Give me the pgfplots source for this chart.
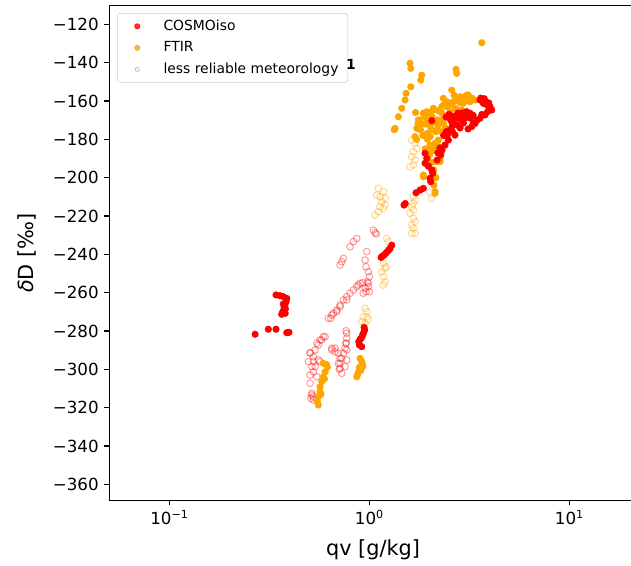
\documentclass[border=0pt]{standalone}
\usepackage{fontspec}
\setmainfont{DejaVu Sans}
\usepackage{pgfplots}
\pgfplotsset{compat=1.18}
\definecolor{mplorange}{HTML}{FFA500}
\definecolor{leggray}{HTML}{BFBFBF}
\newcommand\tickfont{\fontsize{12pt}{14pt}\selectfont}
\newcommand\labfont{\fontsize{15pt}{18pt}\selectfont}
\newcommand\legfont{\fontsize{10pt}{12pt}\selectfont}
\begin{document}
\begin{tikzpicture}
\useasboundingbox (-78.7pt,-46.44pt) rectangle (375.6pt,360.4pt);
\begin{axis}[
  at={(0,0)}, anchor=south west, scale only axis,
  width=379.7pt, height=356.26pt,
  xmode=log, xmin=0.05, xmax=21.7, ymin=-368.5, ymax=-110.3,
  xtick=\empty, ytick=\empty,
  minor xtick={0.05,0.06,0.07,0.08,0.09,0.2,0.3,0.4,0.5,0.6,0.7,0.8,0.9,2,3,4,5,6,7,8,9,20},
  tick align=outside, tick pos=left,
  minor tick length=2pt,
  minor tick style={line width=0.6pt, black},
  separate axis lines, axis line style={line width=0.8pt, black},
  xlabel={qv [g/kg]}, ylabel={{\itshape δ}D [‰]},
  every axis x label/.style={at={(axis description cs:0.5,-0.0999)}, anchor=center, font=\labfont},
  every axis y label/.style={at={(axis description cs:-0.1562,0.5)}, rotate=90, anchor=center, font=\labfont},
  legend style={at={(0.0146,0.9852)}, anchor=north west, draw=black!20, rounded corners=2pt,
    fill=white, fill opacity=0.8, text opacity=1,
    inner xsep=5.7pt, inner ysep=3.5pt, row sep=3.8pt,
    nodes={inner sep=1pt, text height=7.5pt, text depth=2.2pt}},
  legend cell align=left,
]
\addlegendimage{legend image code/.code={\path (0pt,-3pt) (26.2pt,3pt); \fill[red] (8.5pt,0pt) circle[radius=1.9pt];}}
\addlegendentry{\legfont COSMOiso}
\addlegendimage{legend image code/.code={\path (0pt,-3pt) (26.2pt,3pt); \fill[mplorange] (8.5pt,0pt) circle[radius=1.9pt];}}
\addlegendentry{\legfont FTIR}
\addlegendimage{legend image code/.code={\path (0pt,-3pt) (26.2pt,3pt); \draw[leggray, line width=0.6pt] (8.5pt,0pt) circle[radius=1.45pt];}}
\addlegendentry{\legfont less reliable meteorology}

% less reliable, COSMOiso (open, red)
\addplot[forget plot, only marks, mark=o, mark size=2.4pt, draw=red, line width=0.75pt, draw opacity=0.38] table {
x y
1.046 -227.4
1.067 -228.7
1.083 -229.4
0.864 -231.7
0.831 -233.4
0.800 -236.0
0.741 -242.1
0.727 -243.9
0.713 -245.6
0.969 -238.6
0.951 -243.0
0.962 -246.5
0.987 -249.1
0.999 -251.7
0.976 -254.3
0.987 -256.9
0.962 -259.5
0.932 -260.3
0.898 -255.1
0.864 -256.9
0.831 -258.6
0.800 -260.3
0.770 -262.1
0.741 -263.8
0.713 -266.4
0.686 -269.1
0.660 -270.8
0.641 -273.4
0.880 -256.0
0.926 -254.8
0.987 -255.1
0.951 -257.7
0.999 -259.5
0.770 -263.8
0.713 -267.3
0.686 -269.9
0.648 -271.7
0.623 -273.4
0.764 -279.9
0.770 -283.8
0.764 -286.4
0.755 -289.0
0.741 -291.6
0.727 -294.3
0.713 -296.9
0.707 -300.0
0.673 -290.8
0.648 -289.0
0.600 -283.0
0.577 -284.7
0.555 -287.3
0.535 -289.9
0.505 -291.3
0.555 -295.1
0.524 -295.9
0.515 -298.6
0.505 -303.0
0.515 -313.4
0.509 -315.1
0.524 -316.0
0.588 -283.0
0.566 -284.7
0.545 -286.4
0.505 -291.6
0.524 -293.4
0.495 -296.0
0.566 -296.0
0.535 -298.6
0.524 -301.3
0.545 -303.9
0.505 -307.3
0.515 -312.5
0.524 -314.3
0.648 -289.9
0.673 -289.0
0.699 -291.6
0.713 -294.3
0.699 -296.9
0.713 -299.5
0.727 -302.1
0.755 -298.6
0.770 -295.1
0.770 -289.9
0.764 -286.4
0.770 -281.2
};
% less reliable, FTIR (open, orange)
\addplot[forget plot, only marks, mark=o, mark size=2.4pt, draw=mplorange, line width=0.75pt, draw opacity=0.42] table {
x y
1.108 -205.6
1.088 -209.1
1.130 -210.0
1.174 -207.3
1.197 -210.8
1.152 -212.6
1.130 -215.2
1.174 -216.0
1.067 -219.5
1.108 -217.8
1.197 -214.3
1.220 -231.7
1.243 -233.4
1.174 -244.7
1.197 -247.3
1.152 -249.1
1.174 -251.7
1.197 -254.3
1.174 -256.0
1.211 -246.5
0.951 -268.2
0.969 -270.0
0.932 -272.6
0.969 -272.6
0.987 -273.9
0.915 -275.2
0.951 -276.0
1.627 -180.4
1.690 -182.1
1.724 -184.7
1.657 -186.5
1.627 -189.1
1.690 -190.8
1.657 -193.4
1.596 -194.3
1.657 -209.9
1.690 -211.7
1.657 -213.4
1.627 -215.2
1.657 -216.9
1.596 -218.6
1.657 -221.2
1.690 -223.0
1.627 -224.7
1.657 -226.4
1.690 -229.0
1.627 -229.0
2.009 -207.5
2.049 -210.9
};
% FTIR (filled, orange)
\addplot[forget plot, only marks, mark=*, mark size=2.3pt, draw=mplorange, fill=mplorange, line width=0.5pt] table {
x y
0.588 -296.9
0.616 -299.0
0.600 -301.3
0.588 -303.9
0.577 -306.5
0.566 -309.1
0.566 -311.7
0.555 -314.3
0.549 -316.9
0.555 -318.6
0.610 -297.5
0.595 -305.0
0.572 -313.0
0.898 -294.3
0.915 -296.0
0.926 -298.6
0.905 -300.7
0.870 -303.0
0.864 -303.9
0.890 -299.0
0.880 -301.5
0.920 -297.0
1.596 -140.3
1.609 -143.0
1.826 -146.5
1.805 -149.1
1.609 -152.6
1.524 -156.0
1.507 -159.5
1.450 -163.8
1.395 -168.2
1.343 -174.3
1.330 -175.0
2.710 -143.5
2.732 -145.6
3.644 -129.6
2.580 -154.3
2.342 -158.6
2.838 -157.8
3.123 -156.9
3.184 -160.4
2.948 -161.2
2.087 -163.8
1.860 -166.4
1.756 -169.9
1.724 -174.3
2.009 -173.4
2.170 -169.9
2.299 -166.4
2.435 -163.0
2.009 -178.6
2.128 -182.1
2.211 -180.4
2.009 -183.0
2.128 -185.6
2.254 -190.8
2.170 -191.7
1.860 -198.6
2.128 -208.2
1.935 -176.9
1.690 -178.6
1.791 -169.9
1.935 -165.6
2.087 -164.7
2.342 -171.7
2.529 -165.6
2.087 -185.6
2.254 -191.7
1.971 -194.3
1.860 -199.6
2.128 -207.3
3.066 -156.9
2.894 -164.7
2.627 -160.4
3.373 -159.5
2.200 -165.0
2.400 -168.0
2.700 -164.0
1.900 -172.0
2.050 -168.0
1.700 -166.0
1.750 -172.0
1.800 -175.0
1.850 -178.0
1.900 -168.0
1.950 -170.0
2.000 -166.0
2.050 -175.0
2.100 -171.0
2.150 -176.0
2.200 -173.0
2.250 -170.0
2.300 -163.0
2.350 -162.0
2.450 -160.5
2.550 -162.0
2.650 -157.0
2.750 -160.0
2.850 -161.0
2.950 -158.0
3.050 -159.0
3.150 -158.0
3.250 -158.5
2.000 -188.0
2.050 -192.0
2.100 -196.0
2.150 -200.0
2.100 -204.0
1.950 -180.0
1.900 -185.0
1.950 -190.0
2.000 -186.0
1.800 -172.0
1.720 -180.0
2.200 -187.0
2.250 -184.0
2.300 -176.0
2.400 -174.0
};
% COSMOiso (filled, red)
\addplot[forget plot, only marks, mark=*, mark size=2.3pt, draw=red, fill=red, line width=0.5pt] table {
x y
0.268 -281.7
0.312 -279.1
0.341 -279.1
0.386 -280.9
0.396 -280.7
0.341 -261.2
0.357 -261.6
0.371 -262.1
0.386 -263.0
0.383 -264.7
0.378 -266.5
0.371 -265.9
0.374 -267.7
0.380 -268.5
0.368 -270.0
0.364 -271.3
0.379 -270.8
0.940 -278.1
0.947 -279.5
0.932 -281.2
0.925 -282.0
0.918 -283.0
0.905 -284.0
0.898 -284.3
0.884 -285.6
0.890 -287.3
0.915 -288.2
1.293 -235.2
1.268 -236.9
1.250 -237.7
1.229 -238.6
1.205 -239.5
1.183 -240.4
1.160 -241.0
1.143 -241.6
1.489 -214.3
1.510 -213.5
1.897 -187.3
1.935 -189.9
1.897 -192.5
1.971 -193.9
2.049 -196.0
2.073 -197.7
2.009 -200.3
2.025 -202.1
1.860 -205.6
1.791 -206.5
1.710 -207.9
2.049 -170.3
2.415 -168.4
2.627 -168.2
2.773 -166.3
2.904 -166.3
3.066 -165.6
3.184 -166.4
2.894 -169.9
3.006 -168.9
2.732 -172.5
2.588 -171.0
2.529 -175.1
2.838 -174.1
2.679 -177.8
2.480 -180.4
2.388 -183.0
2.307 -185.6
2.273 -188.2
2.178 -190.8
3.573 -159.5
3.711 -161.2
3.873 -162.1
4.009 -163.0
4.088 -164.7
3.784 -167.3
3.573 -169.0
3.373 -171.7
3.247 -173.4
3.112 -174.6
2.500 -167.0
2.950 -171.5
2.600 -173.0
3.300 -167.5
3.600 -158.5
3.750 -158.8
2.350 -178.0
2.420 -176.0
2.550 -170.0
2.650 -169.5
2.800 -169.0
2.750 -167.0
3.000 -166.0
3.100 -167.5
3.300 -172.0
3.450 -170.0
3.650 -167.0
3.900 -165.5
3.950 -161.0
3.800 -160.0
2.200 -187.0
2.250 -184.5
2.450 -178.0
2.600 -176.0
3.200 -169.0
};
\coordinate (one) at (axis cs:0.809,-140.7);
\coordinate (t120) at (axis cs:0.05,-120);
\coordinate (t140) at (axis cs:0.05,-140);
\coordinate (t160) at (axis cs:0.05,-160);
\coordinate (t180) at (axis cs:0.05,-180);
\coordinate (t200) at (axis cs:0.05,-200);
\coordinate (t220) at (axis cs:0.05,-220);
\coordinate (t240) at (axis cs:0.05,-240);
\coordinate (t260) at (axis cs:0.05,-260);
\coordinate (t280) at (axis cs:0.05,-280);
\coordinate (t300) at (axis cs:0.05,-300);
\coordinate (t320) at (axis cs:0.05,-320);
\coordinate (t340) at (axis cs:0.05,-340);
\coordinate (t360) at (axis cs:0.05,-360);
\coordinate (xa) at (axis cs:0.1,-368.5);
\coordinate (xb) at (axis cs:1,-368.5);
\coordinate (xc) at (axis cs:10,-368.5);
\end{axis}
\node[font=\legfont\bfseries, anchor=center] at (one) {1};
\foreach \v in {120,140,160,180,200,220,240,260,280,300,320,340,360}{
  \draw[line width=0.8pt, black] (t\v) -- ++(-3.5pt,0pt);
  \node[anchor=east, inner sep=0pt, font=\tickfont] at ([xshift=-7.5pt]t\v) {−\v};
}
\foreach \c in {xa,xb,xc}{
  \draw[line width=0.8pt, black] (\c) -- ++(0pt,-3.5pt);
}
\node[anchor=north, inner sep=0pt, font=\tickfont] at ([yshift=-7pt]xa) {10\textsuperscript{−1}};
\node[anchor=north, inner sep=0pt, font=\tickfont] at ([yshift=-7pt]xb) {10\textsuperscript{0}};
\node[anchor=north, inner sep=0pt, font=\tickfont] at ([yshift=-7pt]xc) {10\textsuperscript{1}};
\end{tikzpicture}
\end{document}
